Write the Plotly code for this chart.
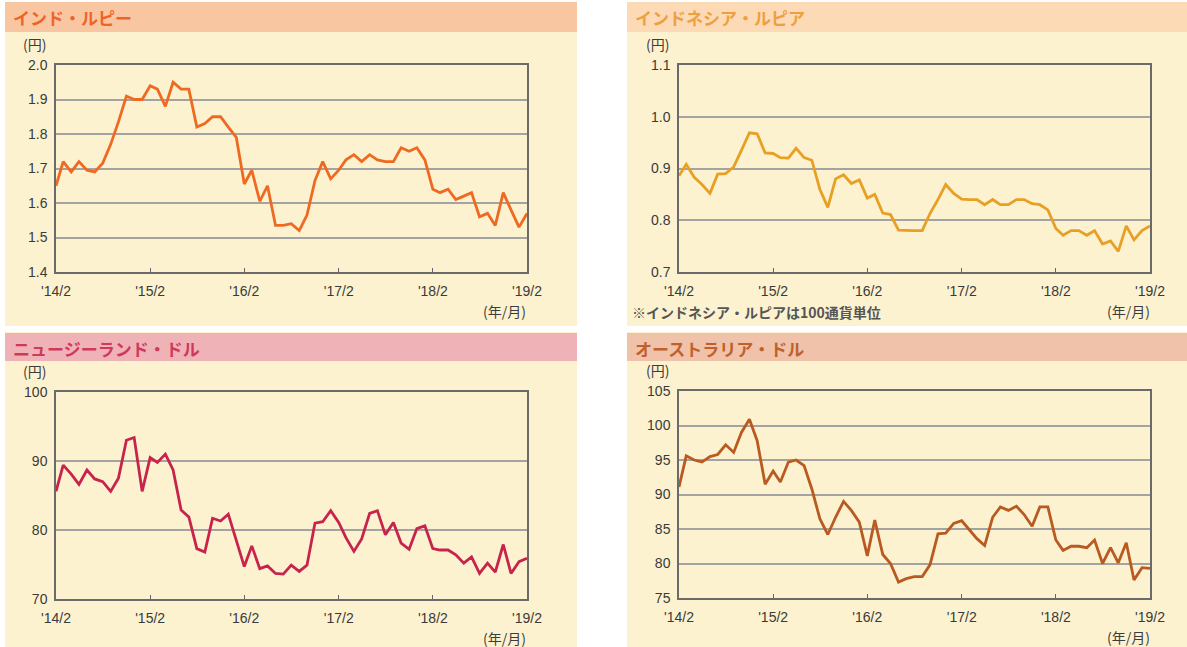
import pandas as pd
import plotly.graph_objects as go

W, H = 1187, 647

# ---- data (monthly, 2014/2 - 2019/2) ----
months = pd.date_range("2014-02-01", "2019-02-01", freq="MS")
tick_dates = ["2014-02-01", "2015-02-01", "2016-02-01", "2017-02-01", "2018-02-01", "2019-02-01"]
tick_labels = ["'14/2", "'15/2", "'16/2", "'17/2", "'18/2", "'19/2"]

inr = [1.65, 1.72, 1.69, 1.72, 1.695, 1.69, 1.715, 1.77, 1.835, 1.91,
       1.90, 1.90, 1.94, 1.93, 1.88, 1.95, 1.93, 1.93, 1.82, 1.83,
       1.85, 1.85, 1.82, 1.79, 1.655, 1.695, 1.605, 1.65, 1.535, 1.535,
       1.54, 1.52, 1.565, 1.665, 1.72, 1.67, 1.695, 1.725, 1.74, 1.72,
       1.74, 1.725, 1.72, 1.72, 1.76, 1.75, 1.76, 1.725, 1.64, 1.63,
       1.64, 1.61, 1.62, 1.63, 1.56, 1.57, 1.535, 1.63, 1.58, 1.53, 1.57]

idr = [0.886, 0.908, 0.883, 0.869, 0.852, 0.889, 0.89, 0.903, 0.935, 0.969,
       0.967, 0.93, 0.929, 0.921, 0.92, 0.939, 0.921, 0.916, 0.86, 0.825,
       0.88, 0.888, 0.871, 0.878, 0.843, 0.85, 0.814, 0.811, 0.781, 0.78,
       0.78, 0.78, 0.813, 0.84, 0.869, 0.852, 0.841, 0.84, 0.84, 0.83,
       0.84, 0.83, 0.83, 0.84, 0.84, 0.832, 0.83, 0.82, 0.784, 0.771,
       0.78, 0.78, 0.771, 0.78, 0.754, 0.76, 0.74, 0.789, 0.762, 0.78, 0.789]

nzd = [85.6, 89.4, 88.1, 86.6, 88.7, 87.4, 87.0, 85.6, 87.5, 93.0,
       93.4, 85.6, 90.5, 89.8, 91.0, 88.7, 82.9, 81.9, 77.3, 76.8,
       81.7, 81.3, 82.3, 78.6, 74.7, 77.7, 74.4, 74.8, 73.7, 73.6,
       74.9, 74.0, 74.9, 81.0, 81.2, 82.8, 81.1, 78.9, 76.9, 78.7,
       82.4, 82.8, 79.3, 81.1, 78.1, 77.2, 80.2, 80.6, 77.3, 77.1,
       77.1, 76.4, 75.2, 76.1, 73.7, 75.2, 73.9, 77.9, 73.7, 75.4, 75.9]

aud = [91.1, 95.6, 95.0, 94.7, 95.5, 95.8, 97.2, 96.1, 99.0, 100.9,
       97.8, 91.5, 93.4, 91.8, 94.7, 95.0, 94.2, 90.8, 86.5, 84.2,
       86.7, 89.0, 87.7, 86.0, 81.1, 86.3, 81.3, 80.0, 77.3, 77.8,
       78.1, 78.1, 79.8, 84.3, 84.4, 85.8, 86.2, 85.0, 83.6, 82.6,
       86.7, 88.2, 87.7, 88.3, 87.1, 85.4, 88.2, 88.2, 83.4, 81.9,
       82.5, 82.5, 82.3, 83.4, 80.0, 82.3, 80.1, 83.0, 77.6, 79.4, 79.3]

panels = [
    dict(name="インド・ルピー", y=inr, yrange=[1.4, 2.0], dtick=0.1, fmt=".1f",
         line="#ee6a22", title_color="#ee6428", header="#f9c6a2",
         px=(56, 527), py=(65, 272), bg=(5, 577, 2, 326), hd=(2, 32)),
    dict(name="インドネシア・ルピア", y=idr, yrange=[0.7, 1.1], dtick=0.1, fmt=".1f",
         line="#e8a024", title_color="#eea040", header="#fcdab6",
         px=(679, 1150), py=(65, 272), bg=(627, 1187, 2, 326), hd=(2, 32)),
    dict(name="ニュージーランド・ドル", y=nzd, yrange=[70, 100], dtick=10, fmt="d",
         line="#c8234c", title_color="#d0385c", header="#efb2b6",
         px=(56, 527), py=(392, 599), bg=(5, 577, 332, 647), hd=(333, 361)),
    dict(name="オーストラリア・ドル", y=aud, yrange=[75, 105], dtick=5, fmt="d",
         line="#b85a22", title_color="#c0602c", header="#f0c2aa",
         px=(679, 1150), py=(391, 598), bg=(627, 1187, 332, 647), hd=(333, 361)),
]

fig = go.Figure()
shapes = []
annotations = []
layout_axes = {}

def fx(v):
    return v / W

def fy(v):
    return 1 - v / H

jp = "Noto Sans CJK JP"
num = "Liberation Sans"

for i, p in enumerate(panels):
    n = i + 1
    xa = "x" if n == 1 else f"x{n}"
    ya = "y" if n == 1 else f"y{n}"
    fig.add_trace(go.Scatter(
        x=months, y=p["y"], mode="lines", xaxis=xa, yaxis=ya,
        line=dict(color=p["line"], width=2.8), showlegend=False,
        hoverinfo="skip"))

    x0, x1, y0, y1 = p["bg"]
    shapes.append(dict(type="rect", xref="paper", yref="paper", layer="below",
                       x0=fx(x0), x1=fx(x1), y0=fy(y1), y1=fy(y0),
                       fillcolor="#fcf2cf", line=dict(width=0)))
    h0, h1 = p["hd"]
    shapes.append(dict(type="rect", xref="paper", yref="paper", layer="below",
                       x0=fx(x0), x1=fx(x1), y0=fy(h1), y1=fy(h0),
                       fillcolor=p["header"], line=dict(width=0)))

    annotations.append(dict(text="<b>" + p["name"] + "</b>", xref="paper", yref="paper",
                            x=fx(x0 + 6), y=fy((h0 + h1) / 2 + 1), xanchor="left", yanchor="middle",
                            showarrow=False, font=dict(family=jp, size=17, color=p["title_color"])))
    pxl, pxr = p["px"]
    pyt, pyb = p["py"]
    annotations.append(dict(text="(円)", xref="paper", yref="paper",
                            x=fx(pxl - 22), y=fy(pyt - 21), xanchor="center", yanchor="middle",
                            showarrow=False, font=dict(family=jp, size=14, color="#3c3c3c")))
    annotations.append(dict(text="(年/月)", xref="paper", yref="paper",
                            x=fx(pxr - 22), y=fy(pyb + 39), xanchor="center", yanchor="middle",
                            showarrow=False, font=dict(family=jp, size=14, color="#3c3c3c")))

    layout_axes["xaxis" if n == 1 else f"xaxis{n}"] = dict(
        domain=[fx(pxl), fx(pxr)], anchor=ya, type="date", automargin=False,
        range=["2014-02-01", "2019-02-01"],
        tickvals=tick_dates, ticktext=tick_labels,
        ticks="inside", ticklen=4, tickcolor="#666", tickwidth=1,
        ticklabelstandoff=5,
        showgrid=False, zeroline=False,
        showline=True, linecolor="#6a6a6a", linewidth=1.5, mirror=True,
        tickfont=dict(family=num, size=14, color="#3a3a3a"))
    layout_axes["yaxis" if n == 1 else f"yaxis{n}"] = dict(
        domain=[fy(pyb), fy(pyt)], anchor=xa, automargin=False,
        range=p["yrange"], dtick=p["dtick"], tick0=p["yrange"][0], tickformat=p["fmt"],
        ticks="", ticklabelstandoff=4,
        showgrid=True, gridcolor="#a3a3a3", gridwidth=1.5,
        zeroline=False, showline=True, linecolor="#6a6a6a", linewidth=1.5, mirror=True,
        tickfont=dict(family=num, size=14, color="#3a3a3a"))

annotations.append(dict(text="<b>※インドネシア・ルピアは100通貨単位</b>", xref="paper", yref="paper",
                        x=fx(630), y=fy(312), xanchor="left", yanchor="middle",
                        showarrow=False, font=dict(family=jp, size=14, color="#555")))

fig.update_layout(
    width=W, height=H, margin=dict(l=0, r=0, t=0, b=0, autoexpand=False),
    paper_bgcolor="white", plot_bgcolor="white",
    shapes=shapes, annotations=annotations, **layout_axes)

fig.write_html("out.html", config={"displayModeBar": False},
               post_script="document.body.style.margin='0';document.body.style.overflow='hidden';")
